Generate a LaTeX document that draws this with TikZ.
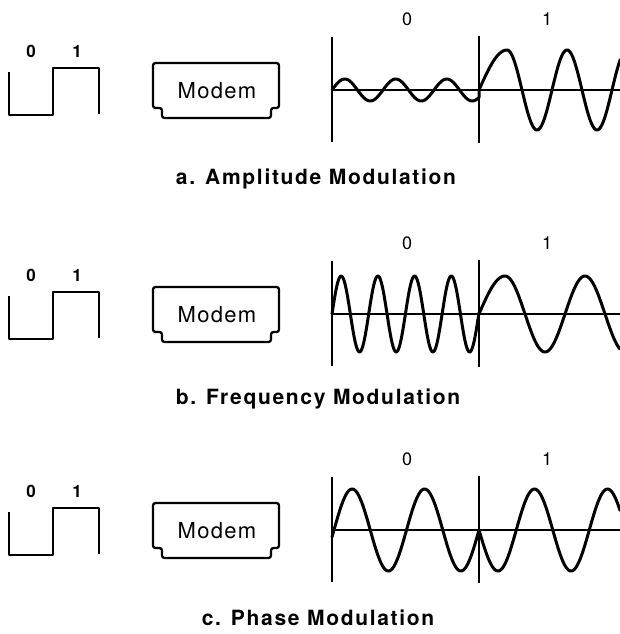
\documentclass[tikz,border=0pt]{standalone}
\usepackage{fontspec}
\setmainfont{TeX Gyre Heros}
\begin{document}
\begin{tikzpicture}[x=1pt, y=-1pt, line join=round,
    sqwave/.style={line width=2.3pt},
    modembox/.style={line width=2.3pt, rounded corners=2.5pt},
    axisline/.style={line width=1.7pt},
    carrier/.style={line width=3pt, line cap=round},
    bitlabel/.style={font=\fontsize{17}{17}\selectfont\bfseries},
    wavelabel/.style={font=\fontsize{18}{18}\selectfont},
    modemtext/.style={font=\fontsize{22}{22}\selectfont\addfontfeature{LetterSpace=6}},
    captiontext/.style={anchor=base, font=\fontsize{21}{21}\selectfont\bfseries\addfontfeature{LetterSpace=8}}]

    \useasboundingbox (0,0) rectangle (620,634);

    % input bits, modem and axes, the same in every row
    \foreach \row/\dy in {a/0, b/224, c/440} {
      \begin{scope}[shift={(0,\dy)}]
        \draw[sqwave] (9,72) -- (9,115) -- (53,115) -- (53,68) -- (99,68) -- (99,114);
        \node[bitlabel] (\row bitzero) at (31,51) {0};
        \node[bitlabel] (\row bitone) at (77,51) {1};

        \draw[modembox] (153,108) -- (153,63) -- (279,63) -- (279,108) -- (271,108)
            -- (271,118) -- (162,118) -- (162,108) -- cycle;
        \node[modemtext] (\row modem) at (217,91) {Modem};

        \draw[axisline] (332,37) -- (332,142);
        \draw[axisline] (479,36) -- (479,143);
        \draw[axisline] (332,90) -- (620,90);
        \node[wavelabel] (\row zero) at (407,19) {0};
        \node[wavelabel] (\row one) at (547,19) {1};
      \end{scope}
    }

    % a. amplitude
    \draw[carrier] plot[domain=0:147, samples=90] ({332+\x}, {90-11*sin(\x/51*360)})
        -- plot[domain=0:90, samples=15] ({479+28*\x/90}, {90-40*sin(\x)})
        -- plot[domain=90:770, samples=130] ({507+(\x-90)/6}, {90-40*sin(\x)});

    % b. frequency
    \begin{scope}[shift={(0,224)}]
      \draw[carrier] plot[domain=0:147, samples=160] ({332+\x}, {90-38*sin(\x/36.7*360)})
          -- plot[domain=0:90, samples=15] ({479+26*\x/90}, {90-38*sin(\x)})
          -- plot[domain=90:607.5, samples=100] ({505+(\x-90)/4.5}, {90-38*sin(\x)});
    \end{scope}

    % c. phase
    \begin{scope}[shift={(0,440)}]
      \draw[carrier] plot[domain=-2:145, samples=120] ({334+\x}, {90-41*sin(\x/72.5*360)})
          -- plot[domain=0:90, samples=15] ({479+19*\x/90}, {90+41*sin(\x)})
          -- plot[domain=90:691.6, samples=110] ({498+(\x-90)/4.93}, {90+41*sin(\x)});
    \end{scope}

    \node[captiontext] (amcaption) at (316,184) {a. Amplitude Modulation};
    \node[captiontext] (fmcaption) at (318,404) {b. Frequency Modulation};
    \node[captiontext] (pmcaption) at (318,625) {c. Phase Modulation};
\end{tikzpicture}
\end{document}
